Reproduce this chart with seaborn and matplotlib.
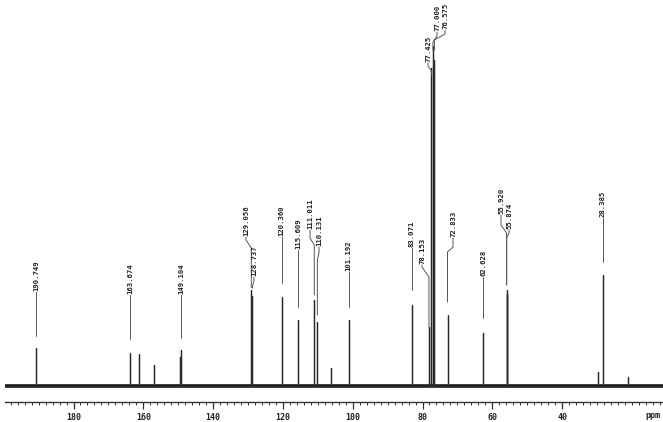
import numpy as np
import pandas as pd
import matplotlib
matplotlib.use('Agg')
import matplotlib.pyplot as plt
import seaborn as sns
from matplotlib.ticker import MultipleLocator

# Picos del espectro 13C (ppm) y su altura relativa
peak_ppm = [190.749, 163.674, 161.3, 156.9, 149.6, 149.104, 129.056, 128.737,
            120.360, 115.609, 111.011, 110.131, 106.3, 101.192, 83.071, 78.153,
            77.425, 77.000, 76.575, 72.833, 62.628, 55.920, 55.874, 29.6, 28.385,
            21.1]
peak_height = [38, 33, 32, 21, 29, 36, 96, 90,
               89, 66, 86, 64, 18, 66, 81, 59,
               318, 340, 326, 71, 53, 96, 92, 14, 111,
               9]

# Picos etiquetados
label_ppm = [190.749, 163.674, 149.104, 129.056, 128.737, 120.360, 115.609,
             111.011, 110.131, 101.192, 83.071, 78.153, 77.425, 77.000, 76.575,
             72.833, 62.628, 55.920, 55.874, 28.385]
label_text = ['%.3f' % v for v in label_ppm]

# Ventana espectral y marcas del eje
spec_window = [199.63, 11.09]
tick_values = [180, 160, 140, 120, 100, 80, 60, 40]
tick_labels = ['180', '160', '140', '120', '100', '80', '60', '40']

# Posición de cada etiqueta: x del texto, base del texto, codo superior, codo inferior, fin de la guía
label_layout = [
    (190.749, 94, 94, 94, 50),
    (163.674, 91, 91, 91, 47),
    (149.104, 91, 91, 91, 48),
    (130.57, 149, 146, 138, 98),
    (128.28, 109, 105, 100, 98),
    (120.360, 149, 149, 149, 103),
    (115.609, 136, 136, 136, 79),
    (112.23, 156, 148, 141, 91),
    (109.66, 139, 133, 126, 71),
    (101.192, 114, 114, 114, 79),
    (83.071, 138, 138, 138, 96),
    (80.14, 121, 119, 109, 59),
    (78.43, 323, 320, 315, 311),
    (75.85, 354, 350, 344, 336),
    (73.55, 356, 352, 346, 336),
    (71.26, 148, 139, 134, 84),
    (62.628, 109, 109, 109, 68),
    (57.51, 171, 161, 153, 101),
    (55.22, 156, 153, 148, 101),
    (28.385, 168, 168, 168, 124),
]

# Espectro de barras: cada pico sube y baja desde la línea base
rows = [(spec_window[0], 0)]
for i in np.argsort(peak_ppm)[::-1]:
    p, h = peak_ppm[i], peak_height[i]
    rows += [(p, 0), (p, h), (p, 0)]
rows.append((spec_window[1], 0))
spec = pd.DataFrame(rows, columns=['ppm', 'int'])

sns.set_style('white')
fig = plt.figure(figsize=(6.63, 4.22), dpi=100)
ax = fig.add_axes([5 / 663, 20 / 422, 658 / 663, 402 / 422])

ax.axhline(0, color='#1a1a1a', lw=2.6, zorder=1)
sns.lineplot(data=spec, x='ppm', y='int', sort=False, estimator=None,
             color='#2a2a2a', lw=0.9, ax=ax, zorder=2)

for (lx, tb, b1, b2, end), p, txt in zip(label_layout, label_ppm, label_text):
    ax.plot([lx, lx, p, p], [tb, b1, b2, end], color='#555555', lw=0.7)
    ax.text(lx, tb + 1, txt, rotation=90, ha='center', va='bottom',
            fontsize=5.2, family='DejaVu Sans Mono', fontweight='bold',
            color='#222222')

ax.set_xlim(spec_window)
ax.set_ylim(-16, 386)
ax.set_xticks(tick_values)
ax.set_xticklabels(tick_labels, family='DejaVu Sans Mono', fontweight='bold',
                   fontsize=6, color='#222222')
ax.xaxis.set_minor_locator(MultipleLocator(2))
ax.tick_params(axis='x', which='major', direction='out', length=5, width=0.9,
               pad=3, bottom=True, color='#333333')
ax.tick_params(axis='x', which='minor', direction='out', length=2.5, width=0.7,
               bottom=True, color='#333333')
ax.set_yticks([])
ax.set_xlabel('')
ax.set_ylabel('')
for s in ['left', 'right', 'top']:
    ax.spines[s].set_visible(False)
ax.spines['bottom'].set_color('#333333')
ax.spines['bottom'].set_linewidth(1.0)

ax.text(14.0, -0.022, 'ppm', transform=ax.get_xaxis_transform(), ha='center',
        va='top', family='DejaVu Sans Mono', fontweight='bold', fontsize=6,
        color='#222222')

fig.savefig('out.png', dpi=100)
